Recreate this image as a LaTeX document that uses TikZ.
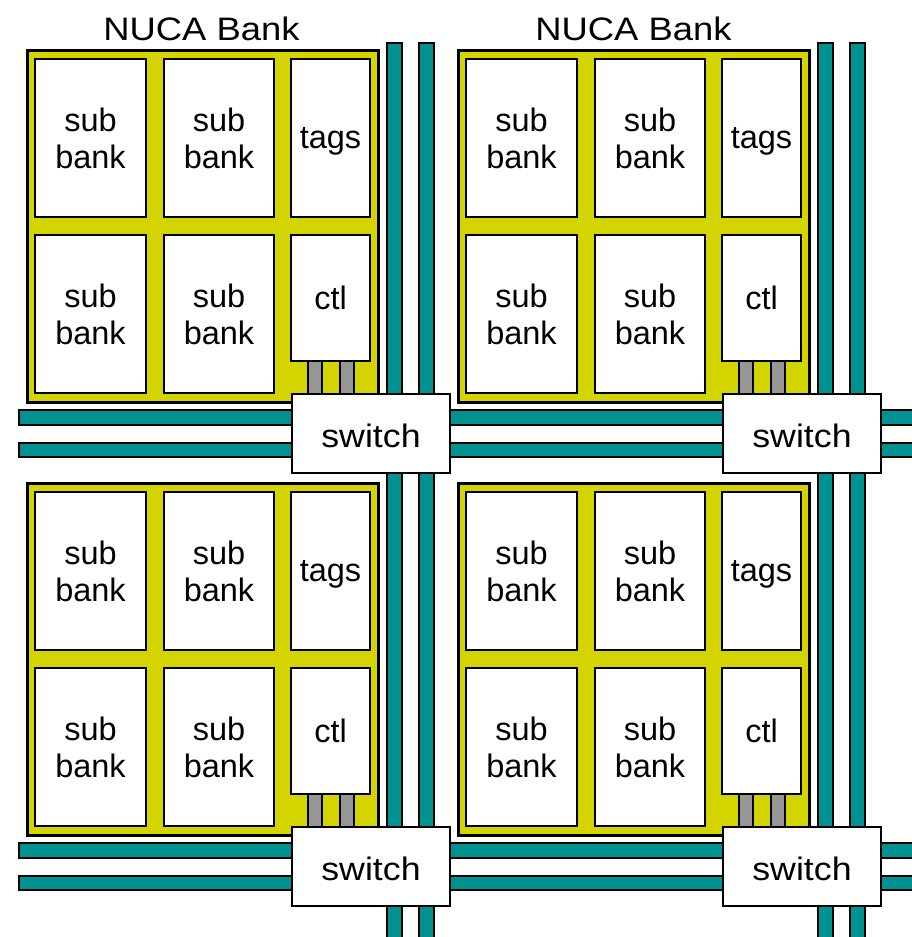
\documentclass[tikz,border=0pt]{standalone}
\usepackage{fontspec}
\setmainfont{Liberation Sans}
\definecolor{nucayellow}{RGB}{212,212,0}
\definecolor{nucateal}{RGB}{0,145,145}
\definecolor{wiregray}{RGB}{150,150,150}
\tikzset{
  bankbox/.style={draw=black, line width=3.2pt, fill=nucayellow},
  cell/.style={draw=black, line width=2.5pt, fill=white, inner sep=0pt, outer sep=0pt,
    anchor=north west, align=center, font=\fontsize{32.5}{37}\selectfont},
  switchbox/.style={draw=black, line width=2.5pt, fill=white, inner sep=0pt, outer sep=0pt,
    anchor=north west, font=\fontsize{32.5}{37}\selectfont, minimum width=158pt, minimum height=79pt},
  tealbar/.style={draw=black, line width=2pt, fill=nucateal},
  graywire/.style={draw=black, line width=2pt, fill=wiregray},
  banktitle/.style={anchor=base, inner sep=0pt, font=\fontsize{32.5}{37}\selectfont}
}
\begin{document}
\begin{tikzpicture}[x=1pt,y=-1pt]
\useasboundingbox (0,0) rectangle (912,937);
% network bars
\foreach \ox in {0,431}{
  \filldraw[tealbar] (\ox+387,43) rectangle (\ox+402,945);
  \filldraw[tealbar] (\ox+419,43) rectangle (\ox+434,945);
}
\foreach \oy in {0,433}{
  \filldraw[tealbar] (19,\oy+410) rectangle (925,\oy+425);
  \filldraw[tealbar] (19,\oy+443) rectangle (925,\oy+457);
}
% banks
\foreach \ox/\oy/\k in {0/0/a,431/0/b,0/433/c,431/433/d}{
  \filldraw[bankbox] (\ox+27.5,\oy+50.5) rectangle (\ox+378.5,\oy+402.5);
  \node[cell, minimum width=111pt, minimum height=158pt] (s1\k) at (\ox+35,\oy+59) {sub\\bank};
  \node[cell, minimum width=110pt, minimum height=158pt] (s2\k) at (\ox+164,\oy+59) {sub\\bank};
  \node[cell, minimum width=79pt, minimum height=158pt] (tags\k) at (\ox+291,\oy+59) {\raisebox{-10pt}[0pt][0pt]{tags}};
  \node[cell, minimum width=111pt, minimum height=158pt] (s3\k) at (\ox+35,\oy+235) {sub\\bank};
  \node[cell, minimum width=110pt, minimum height=158pt] (s4\k) at (\ox+164,\oy+235) {sub\\bank};
  \node[cell, minimum width=79pt, minimum height=126pt] (ctl\k) at (\ox+291,\oy+235) {ctl};
  \node[switchbox] (sw\k) at (\ox+292,\oy+394) {};
  \filldraw[graywire] ([xshift=17pt]ctl\k.south west) rectangle ([xshift=31pt]ctl\k.south west |- sw\k.north);
  \filldraw[graywire] ([xshift=49pt]ctl\k.south west) rectangle ([xshift=63pt]ctl\k.south west |- sw\k.north);
  \node[switchbox] (swt\k) at (sw\k.north west) {\raisebox{-13.5pt}[0pt][0pt]{\scalebox{1.1}[1]{switch}}};
}
\node[banktitle] (t1) at (201.5,40) {\scalebox{1.12}[1]{NUCA Bank}};
\node[banktitle] (t2) at (633.5,40) {\scalebox{1.12}[1]{NUCA Bank}};
\end{tikzpicture}
\end{document}
